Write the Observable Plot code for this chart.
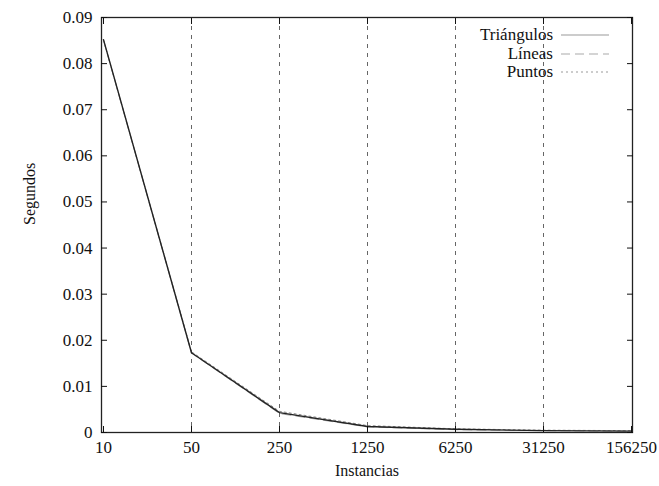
<!DOCTYPE html>
<html>
<head>
<meta charset="utf-8">
<script src="https://cdn.jsdelivr.net/npm/d3@7"></script>
<script src="https://cdn.jsdelivr.net/npm/@observablehq/plot@0.6"></script>
<style>
  html, body { margin: 0; padding: 0; background: #fff; }
  #wrap { position: relative; width: 659px; height: 486px; font-family: "Liberation Serif", "DejaVu Serif", serif; }
  #legend { position: absolute; top: 26px; right: 50px; font-size: 17px; color: #111; line-height: 18.5px; }
  #legend .row { display: flex; justify-content: flex-end; align-items: center; }
  #legend svg { margin-left: 8px; }
</style>
</head>
<body>
<div id="wrap"></div>
<script>
// ---- data ----
const instancias = [10, 50, 250, 1250, 6250, 31250, 156250];
const triangulos = [0.0852, 0.0173, 0.0043, 0.0013, 0.0007, 0.0004, 0.0003];
const lineas     = [0.0850, 0.0172, 0.0041, 0.0012, 0.0006, 0.0004, 0.0003];
const puntos     = [0.0851, 0.0175, 0.0046, 0.0015, 0.0008, 0.0005, 0.0004];
const yTicks = [0, 0.01, 0.02, 0.03, 0.04, 0.05, 0.06, 0.07, 0.08, 0.09];
const seriesNames = ["Triángulos", "Líneas", "Puntos"];

const seriesStyle = {
  "Triángulos": {stroke: "#222", dash: null, width: 1.4, legendStroke: "#999"},
  "Líneas": {stroke: "#aaa", dash: "9,5", width: 1, legendStroke: "#aaa"},
  "Puntos": {stroke: "#888", dash: "2,3", width: 1, legendStroke: "#999"}
};

const rows = [];
[triangulos, lineas, puntos].forEach((vals, i) => {
  vals.forEach((v, j) => rows.push({serie: seriesNames[i], x: instancias[j], y: v}));
});

const inner = instancias.slice(1, -1);
const fmtY = d => d === 0 ? "0" : d.toFixed(2);

const marks = [
  Plot.ruleX(inner, {stroke: "#666", strokeDasharray: "4,5", strokeWidth: 1}),
  // draw in reverse so the solid line is on top
  ...seriesNames.slice().reverse().map(s => Plot.line(rows.filter(r => r.serie === s), {
    x: "x", y: "y", stroke: seriesStyle[s].stroke,
    strokeDasharray: seriesStyle[s].dash, strokeWidth: seriesStyle[s].width
  })),
  Plot.frame({stroke: "#222", strokeWidth: 1.3}),
  Plot.axisY(yTicks, {anchor: "left", tickSize: -6, tickPadding: 15, tickFormat: fmtY, fontSize: 17, fill: "#111", label: null}),
  Plot.axisY(yTicks, {anchor: "right", tickSize: -6, text: null, label: null}),
  Plot.axisX(instancias, {anchor: "bottom", tickSize: -6, tickPadding: 14, tickFormat: d => String(d), fontSize: 17, fill: "#111", label: null}),
  Plot.axisX(instancias, {anchor: "top", tickSize: -6, text: null, label: null}),
  Plot.text(["Segundos"], {frameAnchor: "left", dx: -72, rotate: -90, fontSize: 16, fill: "#111"}),
  Plot.text(["Instancias"], {frameAnchor: "bottom", dy: 43, fontSize: 16, fill: "#111"})
];

const chart = Plot.plot({
  width: 659,
  height: 486,
  marginLeft: 101,
  marginRight: 27,
  marginTop: 17,
  marginBottom: 54,
  style: {fontFamily: "'Liberation Serif', 'DejaVu Serif', serif", fontSize: "17px", color: "#111", background: "#fff", overflow: "visible"},
  x: {type: "point", domain: instancias, padding: 0},
  y: {domain: [0, 0.09]},
  marks
});

const wrap = document.getElementById("wrap");
wrap.appendChild(chart);

// legend (inside the frame, top-right)
const legend = document.createElement("div");
legend.id = "legend";
seriesNames.forEach(s => {
  const st = seriesStyle[s];
  const row = document.createElement("div");
  row.className = "row";
  row.innerHTML = `<span>${s}</span><svg width="48" height="10"><line x1="0" y1="5" x2="48" y2="5" stroke="${st.legendStroke}" stroke-width="1.2" ${st.dash ? `stroke-dasharray="${st.dash}"` : ""}/></svg>`;
  legend.appendChild(row);
});
wrap.appendChild(legend);
</script>
</body>
</html>
